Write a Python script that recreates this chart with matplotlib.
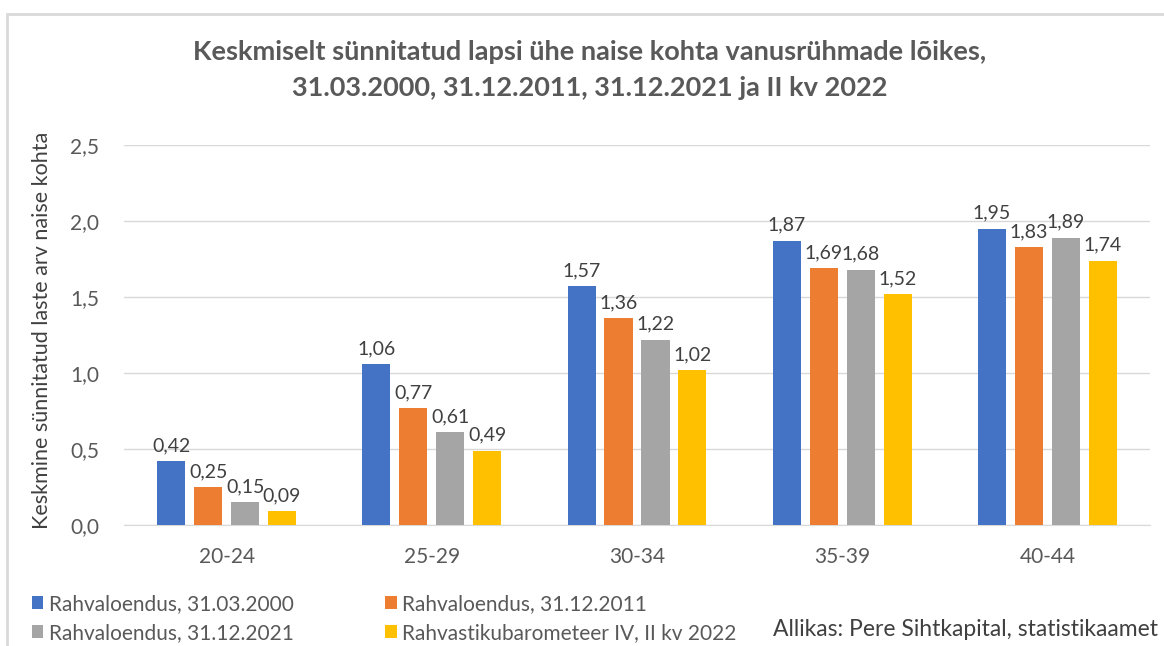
import numpy as np
import matplotlib.pyplot as plt
from matplotlib.patches import Rectangle

plt.rcParams['font.family'] = ['Lato', 'DejaVu Sans']

groups = ['20-24', '25-29', '30-34', '35-39', '40-44']
series = ['Rahvaloendus, 31.03.2000', 'Rahvaloendus, 31.12.2011',
          'Rahvaloendus, 31.12.2021', 'Rahvastikubarometeer IV, II kv 2022']
v2000 = [0.42, 1.06, 1.57, 1.87, 1.95]
v2011 = [0.25, 0.77, 1.36, 1.69, 1.83]
v2021 = [0.15, 0.61, 1.22, 1.68, 1.89]
v2022 = [0.09, 0.49, 1.02, 1.52, 1.74]
colors = ['#4472C4', '#ED7D31', '#A5A5A5', '#FFC000']

title = ('Keskmiselt sünnitatud lapsi ühe naise kohta vanusrühmade lõikes,\n'
         '31.03.2000, 31.12.2011, 31.12.2021 ja II kv 2022')
ylabel = 'Keskmine sünnitatud laste arv naise kohta'
source = 'Allikas: Pere Sihtkapital, statistikaamet'

W, H = 1164, 646
fig = plt.figure(figsize=(W / 100, H / 100), dpi=100)
ax = fig.add_axes([124 / W, 1 - 525 / H, 1026 / W, 380 / H])

x = np.arange(len(groups))
width = 0.137
pitch = 0.18
bars = []
for i, vals in enumerate([v2000, v2011, v2021, v2022]):
    b = ax.bar(x + (i - 1.5) * pitch, vals, width, color=colors[i], label=series[i], zorder=3)
    bars.append(b)
    for xi, v in zip(x + (i - 1.5) * pitch, vals):
        ax.annotate(('%.2f' % v).replace('.', ','), (xi, v), xytext=(0, 5),
                    textcoords='offset points', ha='center', va='bottom',
                    fontsize=14, color='#404040')

ax.set_xlim(-0.5, len(groups) - 0.5)
ax.set_ylim(0, 2.5)
ax.set_yticks(np.arange(0, 2.51, 0.5))
ax.set_yticklabels([('%.1f' % t).replace('.', ',') for t in np.arange(0, 2.51, 0.5)])
ax.set_xticks(x)
ax.set_xticklabels(groups)
ax.tick_params(axis='both', length=0, labelsize=15, labelcolor='#595959')
ax.tick_params(axis='y', pad=18)
ax.tick_params(axis='x', pad=16)
ax.grid(axis='y', color='#D9D9D9', linewidth=1, zorder=0)
for s in ['top', 'right', 'left']:
    ax.spines[s].set_visible(False)
ax.spines['bottom'].set_color('#D9D9D9')

fig.text(42 / W, 1 - 330 / H, ylabel, rotation=90, ha='center', va='center',
         fontsize=15.5, color='#404040')
fig.text(590 / W, 1 - 70 / H, title, ha='center', va='center', fontsize=19.5,
         fontweight='bold', color='#595959', linespacing=1.6)

handles = [bars[0], bars[2], bars[1], bars[3]]
labels = [series[0], series[2], series[1], series[3]]
fig.legend(handles, labels, ncol=2, loc='upper left', bbox_to_anchor=(32 / W, 1 - 594 / H),
           frameon=False, fontsize=15, handlelength=0.55, handleheight=0.55,
           handletextpad=0.25, columnspacing=4.4, labelspacing=0.42, labelcolor='#595959',
           borderaxespad=0, borderpad=0)

fig.text(1158 / W, 1 - 630 / H, source, ha='right', va='center', fontsize=16.5,
         color='#404040')

fig.patches.append(Rectangle((7 / W, -0.1), 1.2, 1 - 14 / H + 0.1, transform=fig.transFigure,
                             fill=False, edgecolor='#D9D9D9', linewidth=2))

fig.savefig('out.png', dpi=100)
